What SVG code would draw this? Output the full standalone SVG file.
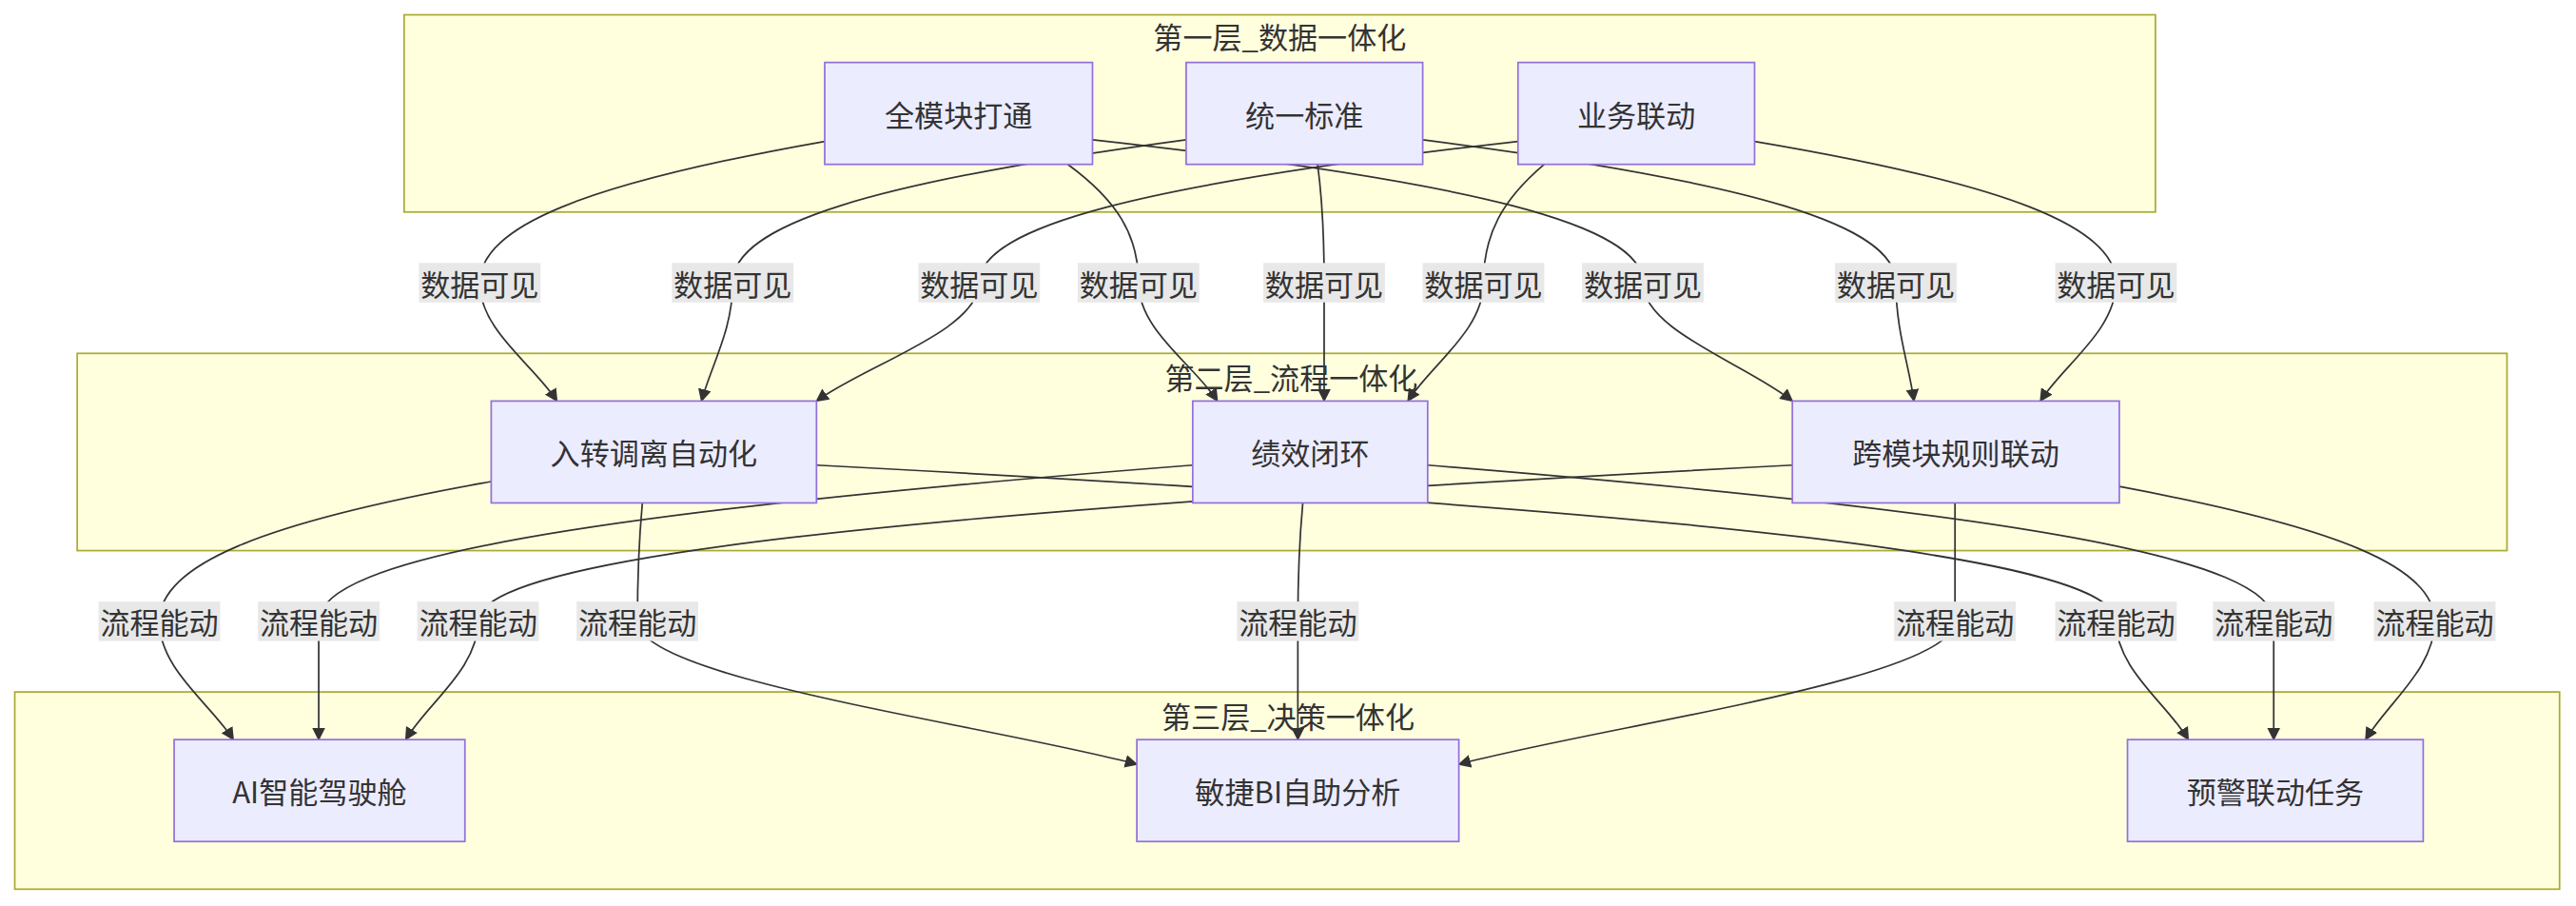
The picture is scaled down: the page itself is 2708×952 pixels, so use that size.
<svg xmlns="http://www.w3.org/2000/svg" width="2708" height="952" viewBox="0 0 2708 952">
<defs>
<style>
.cl{fill:#ffffde;stroke:#aaaa33;stroke-width:1}
.nd{fill:#ececff;stroke:#9370db;stroke-width:1}
text{font-family:"Noto Sans CJK SC","Liberation Sans",sans-serif;font-size:18px;fill:#333;text-anchor:middle;dominant-baseline:central}
.e{fill:none;stroke:#333;stroke-width:1;marker-end:url(#a)}
.lb{fill:#e8e8e8}
</style>
<marker id="a" viewBox="0 0 10 10" refX="9" refY="5" markerWidth="8" markerHeight="8" orient="auto" markerUnits="userSpaceOnUse"><path d="M0,0L10,5L0,10z" fill="#333"/></marker>
</defs>
<rect width="2708" height="952" fill="#fff"/>
<g transform="scale(1.72704)">
<g id="layer1"><rect class="cl" x="246" y="9" width="1066" height="120"/><text x="779" y="22">第一层_数据一体化</text></g>
<g id="layer2"><rect class="cl" x="47" y="215" width="1479" height="120"/><text x="786" y="229">第二层_流程一体化</text></g>
<g id="layer3"><rect class="cl" x="9" y="421" width="1549" height="120"/><text x="784" y="435">第三层_决策一体化</text></g>
<g id="connectors">
<path class="e" d="M502,86C355,112 292,138 292,172C292,201 325,222 339,244"/>
<path class="e" d="M722,85C529,111 446,137 446,172C446,201 433,222 427,244"/>
<path class="e" d="M924,86C694,112 596,138 596,172C596,201 527,222 497,244"/>
<path class="e" d="M650,100C680,122 693,143 693,172C693,201 727,222 741,244"/>
<path class="e" d="M802,100C805,122 806,143 806,172C806,201 806,222 806,244"/>
<path class="e" d="M940,100C914,122 903,143 903,172C903,201 871,222 857,244"/>
<path class="e" d="M665,85C900,111 1000,137 1000,172C1000,201 1064,222 1091,244"/>
<path class="e" d="M866,85C1068,111 1154,137 1154,172C1154,201 1162,222 1165,244"/>
<path class="e" d="M1068,86C1222,112 1288,138 1288,172C1288,201 1256,222 1242,244"/>
<path class="e" d="M299,293C158,318 97,344 97,378C97,407 128,428 142,450"/>
<path class="e" d="M726,283C354,312 194,340 194,378C194,407 194,428 194,450"/>
<path class="e" d="M1091,283C531,312 291,340 291,378C291,407 260,428 247,450"/>
<path class="e" d="M391,306C389,328 388,349 388,378C388,413 601,441 692,465"/>
<path class="e" d="M793,306C791,328 790,349 790,378C790,407 790,428 790,450"/>
<path class="e" d="M1190,306C1190,328 1190,349 1190,378C1190,413 979,441 888,465"/>
<path class="e" d="M497,283C1051,312 1288,340 1288,378C1288,407 1319,428 1332,450"/>
<path class="e" d="M869,283C1230,312 1384,340 1384,378C1384,407 1384,428 1384,450"/>
<path class="e" d="M1290,296C1424,321 1482,345 1482,378C1482,407 1453,428 1440,450"/>
</g>
<g id="labels">
<g><rect class="lb" x="255" y="160" width="74" height="24"/><text x="292" y="172">数据可见</text></g>
<g><rect class="lb" x="409" y="160" width="74" height="24"/><text x="446" y="172">数据可见</text></g>
<g><rect class="lb" x="559" y="160" width="74" height="24"/><text x="596" y="172">数据可见</text></g>
<g><rect class="lb" x="656" y="160" width="74" height="24"/><text x="693" y="172">数据可见</text></g>
<g><rect class="lb" x="769" y="160" width="74" height="24"/><text x="806" y="172">数据可见</text></g>
<g><rect class="lb" x="866" y="160" width="74" height="24"/><text x="903" y="172">数据可见</text></g>
<g><rect class="lb" x="963" y="160" width="74" height="24"/><text x="1000" y="172">数据可见</text></g>
<g><rect class="lb" x="1117" y="160" width="74" height="24"/><text x="1154" y="172">数据可见</text></g>
<g><rect class="lb" x="1251" y="160" width="74" height="24"/><text x="1288" y="172">数据可见</text></g>
<g><rect class="lb" x="60" y="366" width="74" height="24"/><text x="97" y="378">流程能动</text></g>
<g><rect class="lb" x="157" y="366" width="74" height="24"/><text x="194" y="378">流程能动</text></g>
<g><rect class="lb" x="254" y="366" width="74" height="24"/><text x="291" y="378">流程能动</text></g>
<g><rect class="lb" x="351" y="366" width="74" height="24"/><text x="388" y="378">流程能动</text></g>
<g><rect class="lb" x="753" y="366" width="74" height="24"/><text x="790" y="378">流程能动</text></g>
<g><rect class="lb" x="1153" y="366" width="74" height="24"/><text x="1190" y="378">流程能动</text></g>
<g><rect class="lb" x="1251" y="366" width="74" height="24"/><text x="1288" y="378">流程能动</text></g>
<g><rect class="lb" x="1347" y="366" width="74" height="24"/><text x="1384" y="378">流程能动</text></g>
<g><rect class="lb" x="1445" y="366" width="74" height="24"/><text x="1482" y="378">流程能动</text></g>
</g>
<g id="n1"><rect class="nd" x="502" y="38" width="163" height="62"/><text x="583.5" y="69">全模块打通</text></g>
<g id="n2"><rect class="nd" x="722" y="38" width="144" height="62"/><text x="794" y="69">统一标准</text></g>
<g id="n3"><rect class="nd" x="924" y="38" width="144" height="62"/><text x="996" y="69">业务联动</text></g>
<g id="n4"><rect class="nd" x="299" y="244" width="198" height="62"/><text x="398" y="275">入转调离自动化</text></g>
<g id="n5"><rect class="nd" x="726" y="244" width="143" height="62"/><text x="797.5" y="275">绩效闭环</text></g>
<g id="n6"><rect class="nd" x="1091" y="244" width="199" height="62"/><text x="1190.5" y="275">跨模块规则联动</text></g>
<g id="n7"><rect class="nd" x="106" y="450" width="177" height="62"/><text x="194.5" y="481">AI智能驾驶舱</text></g>
<g id="n8"><rect class="nd" x="692" y="450" width="196" height="62"/><text x="790" y="481">敏捷BI自助分析</text></g>
<g id="n9"><rect class="nd" x="1295" y="450" width="180" height="62"/><text x="1385" y="481">预警联动任务</text></g>
</g>
</svg>
